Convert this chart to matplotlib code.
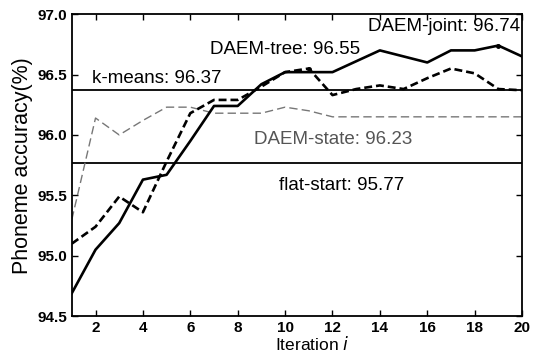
import numpy as np
import matplotlib.pyplot as plt

plt.rcParams['font.family'] = ['Liberation Sans', 'DejaVu Sans']

iters = np.arange(1, 21)
daem_joint = [94.69, 95.05, 95.27, 95.63, 95.67, 95.95, 96.24, 96.24, 96.42, 96.52,
              96.52, 96.52, 96.61, 96.70, 96.65, 96.60, 96.70, 96.70, 96.74, 96.65]
daem_tree = [95.10, 95.24, 95.49, 95.36, 95.78, 96.18, 96.29, 96.29, 96.40, 96.52,
             96.55, 96.33, 96.38, 96.41, 96.38, 96.47, 96.55, 96.51, 96.38, 96.37]
daem_state = [95.30, 96.14, 96.00, 96.12, 96.23, 96.23, 96.18, 96.18, 96.18, 96.23,
              96.20, 96.15, 96.15, 96.15, 96.15, 96.15, 96.15, 96.15, 96.15, 96.15]
kmeans = 96.37
flat_start = 95.77

fig = plt.figure(figsize=(5.36, 3.54), dpi=100)
ax = fig.add_axes([0.134, 0.107, 0.840, 0.853])

ax.axhline(kmeans, color='black', lw=1.3)
ax.axhline(flat_start, color='black', lw=1.3)
ax.plot(iters, daem_state, color='#777777', lw=1.0, ls=(0, (6, 3)))
ax.plot(iters, daem_tree, color='black', lw=1.9, ls=(0, (3, 1.5)))
ax.plot(iters, daem_joint, color='black', lw=1.9)
ax.plot([11], [96.55], 'k.', ms=5)
ax.plot([19], [96.74], 'k.', ms=5)

fs = 13.5
ax.text(13.5, 96.90, 'DAEM-joint: 96.74', fontsize=fs, va='center')
ax.text(6.83, 96.71, 'DAEM-tree: 96.55', fontsize=fs, va='center')
ax.text(1.84, 96.47, 'k-means: 96.37', fontsize=fs, va='center')
ax.text(8.69, 95.96, 'DAEM-state: 96.23', fontsize=fs, va='center', color='#555555')
ax.text(9.74, 95.58, 'flat-start: 95.77', fontsize=fs, va='center')

ax.set_xlim(1, 20)
ax.set_ylim(94.5, 97.0)
ax.set_xticks(range(2, 21, 2))
ax.set_yticks(np.arange(94.5, 97.01, 0.5))
ax.set_yticklabels(['%.1f' % v for v in np.arange(94.5, 97.01, 0.5)])
ax.tick_params(direction='in', top=True, right=True, length=4, width=1,
               labelsize=11)
for lab in ax.get_xticklabels() + ax.get_yticklabels():
    lab.set_fontweight('bold')
for s in ax.spines.values():
    s.set_linewidth(1.3)

ax.set_xlabel('Iteration $i$', fontsize=12.5, labelpad=1)
ax.xaxis.set_label_coords(0.534, -0.062)
ax.set_ylabel('Phoneme accuracy(%)', fontsize=15.5, labelpad=3)

fig.savefig('out.png', dpi=100)
